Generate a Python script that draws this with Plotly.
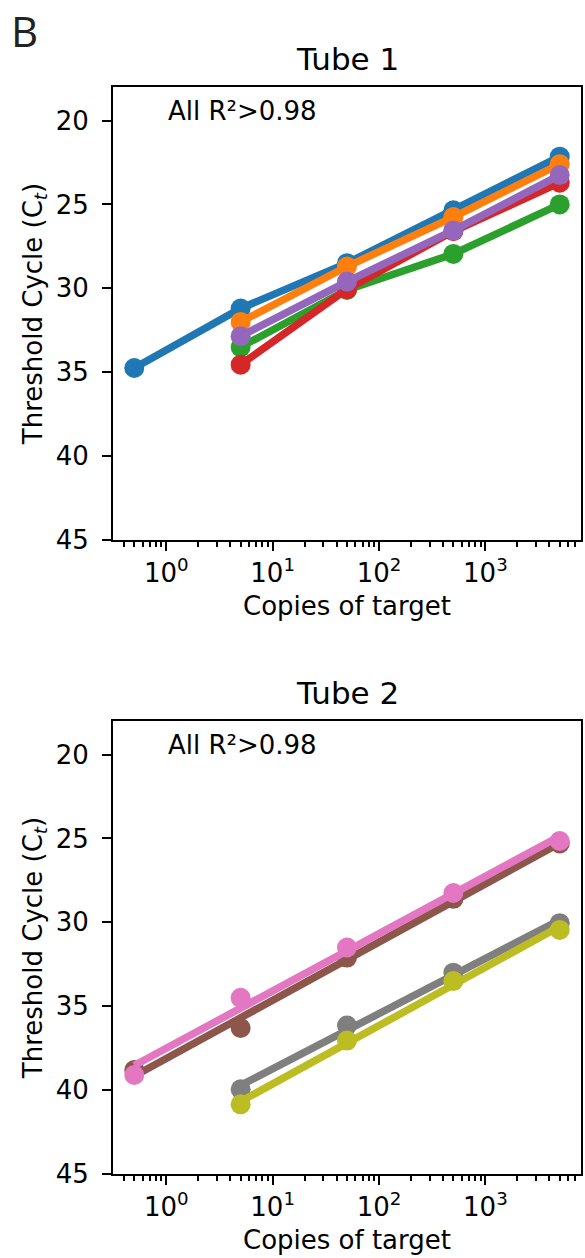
import numpy as np
import plotly.graph_objects as go

# ---------------- data ----------------
copies = [0.5, 5, 50, 500, 5000]

# Tube 1 series (Ct values); None = not measured
tube1_blue   = [34.75, 31.2, 28.5, 25.35, 22.15]
tube1_orange = [None, 32.0, 28.7, 25.75, 22.6]
tube1_green  = [None, 33.5, 30.1, 27.95, 25.0]
tube1_red    = [None, 34.55, 30.05, 26.6, 23.7]
tube1_purple = [None, 32.85, 29.6, 26.55, 23.25]

# Tube 2 series (markers = data, lines = log-linear fit)
tube2_brown = [38.8, 36.3, 32.1, 28.6, 25.3]
tube2_pink  = [39.1, 34.5, 31.5, 28.25, 25.15]
tube2_gray  = [None, 39.95, 36.15, 33.0, 30.05]
tube2_olive = [None, 40.85, 37.05, 33.5, 30.45]

tube1_series = [tube1_blue, tube1_orange, tube1_green, tube1_red, tube1_purple]
tube1_colors = ["#1f77b4", "#ff7f0e", "#2ca02c", "#d62728", "#9467bd"]
tube2_series = [tube2_brown, tube2_pink, tube2_gray, tube2_olive]
tube2_colors = ["#8c564b", "#e377c2", "#7f7f7f", "#bcbd22"]

x_tickvals = [1, 10, 100, 1000]
x_ticktext = ["10<sup>0</sup>", "10<sup>1</sup>", "10<sup>2</sup>", "10<sup>3</sup>"]
y_tickvals = [20, 25, 30, 35, 40, 45]
titles = ["Tube 1", "Tube 2"]
note_text = "All R²>0.98"
panel_letter = "B"

# ---------------- figure ----------------
W, H = 585, 1258
ML, MR, MT, MB = 113, 2, 87, 84
PW, PH = W - ML - MR, H - MT - MB

def py(ypix):
    return (H - MB - ypix) / PH

def px(xpix):
    return (xpix - ML) / PW

FONT = "DejaVu Sans"
LW, MS = 7.5, 20
fig = go.Figure()

for s, c in zip(tube1_series, tube1_colors):
    fig.add_trace(go.Scatter(x=copies, y=s, mode="lines+markers", xaxis="x", yaxis="y",
                             line=dict(color=c, width=LW), marker=dict(color=c, size=MS),
                             showlegend=False, connectgaps=False))

for s, c in zip(tube2_series, tube2_colors):
    xs = [x for x, v in zip(copies, s) if v is not None]
    ys = [v for v in s if v is not None]
    fig.add_trace(go.Scatter(x=xs, y=ys, mode="markers", xaxis="x2", yaxis="y2",
                             marker=dict(color=c, size=MS), showlegend=False))
    slope, icpt = np.polyfit(np.log10(xs), ys, 1)
    xf = [min(xs), max(xs)]
    yf = [slope * np.log10(v) + icpt for v in xf]
    fig.add_trace(go.Scatter(x=xf, y=yf, mode="lines", xaxis="x2", yaxis="y2",
                             line=dict(color=c, width=LW), showlegend=False))

minor_vals = [m * 10 ** e for e in range(-1, 4) for m in range(2, 10)]

def xaxis_cfg(anchor):
    return dict(type="log", range=[-0.501, 3.899], anchor=anchor,
                tickmode="array", tickvals=x_tickvals, ticktext=x_ticktext,
                ticks="outside", ticklen=9, tickwidth=2, tickcolor="black",
                minor=dict(tickmode="array", tickvals=minor_vals, ticks="outside",
                           ticklen=5, tickwidth=1.5, tickcolor="black"),
                showline=True, linecolor="black", linewidth=2, mirror=True,
                showgrid=False, zeroline=False,
                tickfont=dict(family=FONT, size=26, color="black"),
                title=dict(text="Copies of target", standoff=10,
                           font=dict(family=FONT, size=26, color="black")))

def yaxis_cfg(anchor, domain):
    return dict(range=[45, 18], domain=domain, anchor=anchor,
                tickmode="array", tickvals=y_tickvals,
                ticks="outside", ticklen=9, tickwidth=2, tickcolor="black",
                ticklabelstandoff=8,
                showline=True, linecolor="black", linewidth=2, mirror=True,
                showgrid=False, zeroline=False,
                tickfont=dict(family=FONT, size=26, color="black"),
                title=dict(text="Threshold Cycle (C<sub><i>t</i></sub>)", standoff=6,
                           font=dict(family=FONT, size=26, color="black")))

top_dom = [py(540), 1.0]
bot_dom = [0.0, py(721)]

fig.update_layout(
    width=W, height=H,
    margin=dict(l=ML, r=MR, t=MT, b=MB),
    paper_bgcolor="white", plot_bgcolor="white",
    xaxis=xaxis_cfg("y"),
    yaxis=yaxis_cfg("x", top_dom),
    xaxis2=xaxis_cfg("y2"),
    yaxis2=yaxis_cfg("x2", bot_dom),
    showlegend=False,
)

annos = [
    dict(text=panel_letter, x=px(10), y=py(30), xanchor="left", yanchor="middle", borderpad=0,
         font=dict(family="Open Sans", size=42, color="#222222")),
    dict(text=titles[0], x=px(348), y=py(59), xanchor="center", yanchor="middle",
         font=dict(family=FONT, size=31, color="black")),
    dict(text=titles[1], x=px(348), y=py(693), xanchor="center", yanchor="middle",
         font=dict(family=FONT, size=31, color="black")),
    dict(text=note_text, x=px(166), y=py(111), xanchor="left", yanchor="middle",
         font=dict(family=FONT, size=26, color="black")),
    dict(text=note_text, x=px(166), y=py(745), xanchor="left", yanchor="middle",
         font=dict(family=FONT, size=26, color="black")),
]
for a in annos:
    a.update(xref="paper", yref="paper", showarrow=False)
fig.update_layout(annotations=annos)

fig.write_html("out.html", config={"displayModeBar": False},
               post_script="document.body.style.margin='0px';")
